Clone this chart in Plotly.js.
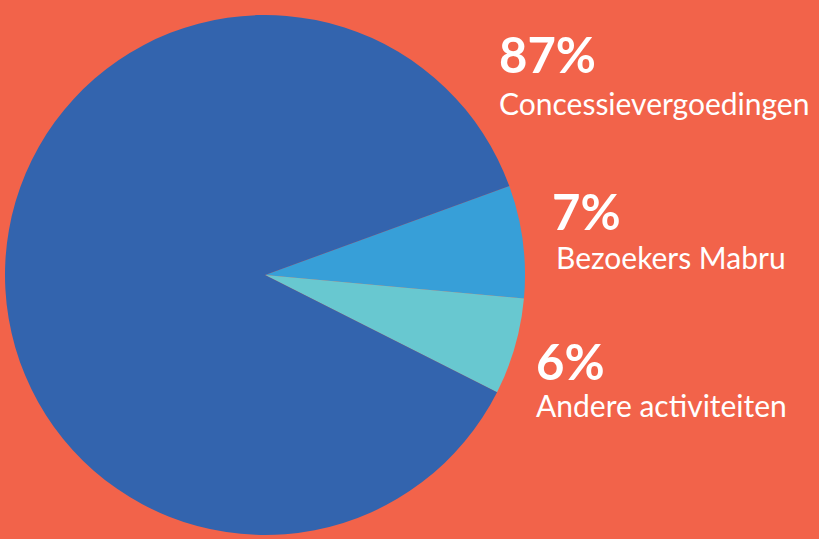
<!DOCTYPE html>
<html><head><meta charset="utf-8">
<script src="https://cdn.plot.ly/plotly-3.0.1.min.js"></script>
<style>html,body{margin:0;padding:0;background:#F2634A;}#chart{width:819px;height:539px;}</style>
</head><body><div id="chart"></div>
<script>
const categories = ["Bezoekers Mabru", "Andere activiteiten", "Concessievergoedingen"];
const values = [7, 6, 87];
const pctLabels = ["7%", "6%", "87%"];
const colors = ["#379FD8", "#68C8D0", "#3364AE"];

const trace = {
  type: "pie",
  labels: categories,
  values: values,
  sort: false,
  direction: "clockwise",
  rotation: 70,
  marker: {colors: colors, line: {width: 0}},
  textinfo: "none",
  hoverinfo: "none",
  showlegend: false,
  domain: {x: [5/819, 525/819], y: [4/539, 524/539]}
};

// label positions (paper coords) [pctX, pctY, nameX, nameY]
const pos = {
  "Concessievergoedingen": [497/819, 1-54/539, 497/819, 1-103/539],
  "Bezoekers Mabru": [550/819, 1-211/539, 554/819, 1-257/539],
  "Andere activiteiten": [534/819, 1-361/539, 534/819, 1-405/539]
};
const annotations = [];
categories.forEach((c, i) => {
  const p = pos[c];
  annotations.push({xref: "paper", yref: "paper", x: p[0], y: p[1], xanchor: "left", yanchor: "middle",
    text: "<b>" + pctLabels[i] + "</b>", showarrow: false,
    font: {family: "Lato, sans-serif", size: 49, color: "#FFFFFF"}});
  annotations.push({xref: "paper", yref: "paper", x: p[2], y: p[3], xanchor: "left", yanchor: "middle",
    text: c, showarrow: false,
    font: {family: "Lato, sans-serif", size: 30, color: "#FFFFFF"}});
});

Plotly.newPlot("chart", [trace], {
  width: 819, height: 539,
  margin: {l: 0, r: 0, t: 0, b: 0},
  paper_bgcolor: "#F2634A", plot_bgcolor: "#F2634A",
  annotations: annotations
}, {staticPlot: true, displayModeBar: false});
</script></body></html>
